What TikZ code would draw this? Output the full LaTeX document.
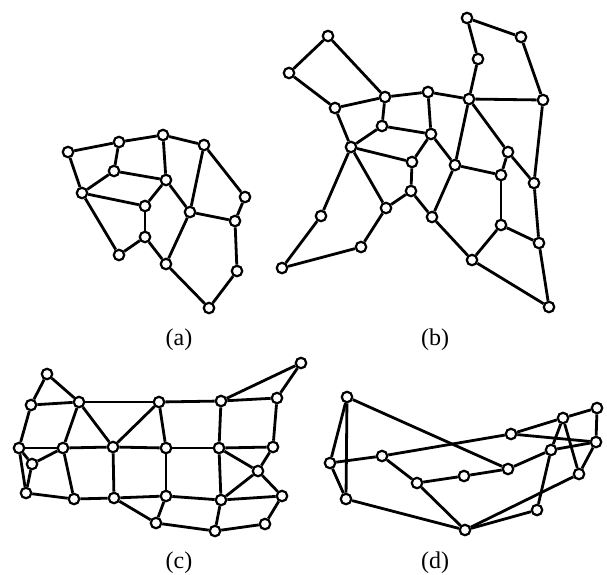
\documentclass[tikz,border=0pt]{standalone}
\usepackage{fontspec}
\setmainfont{Liberation Serif}
\begin{document}
\begin{tikzpicture}[x=1pt,y=-1pt,
  vtx/.style={circle,draw,fill=white,inner sep=0pt,minimum size=10.5pt,line width=2.2pt},
  edge/.style={line width=2.8pt},
  lab/.style={font=\fontsize{24}{28}\selectfont,inner sep=0pt}]
\useasboundingbox (0,0) rectangle (607,574);
% (a)
\foreach \n/\x/\y in {a1/68/152,a2/119/142,a3/163/135,a4/204/145,a5/114/171,a6/166/180,a7/82/193,a8/145/206,a9/190/212,a10/245/197,a11/235/221,a12/145/237,a13/119/255,a14/166/264,a15/237/271,a16/209/308}
  \node[vtx] (\n) at (\x,\y) {};
\foreach \u/\v in {a1/a2,a2/a3,a3/a4,a1/a7,a2/a5,a5/a7,a5/a6,a3/a6,a7/a8,a7/a13,a6/a8,a6/a9,a4/a9,a4/a10,a10/a11,a9/a11,a8/a12,a12/a13,a12/a14,a9/a14,a11/a15,a14/a16,a15/a16}
  \draw[edge] (\u) -- (\v);
% (b)
\foreach \n/\x/\y in {b1/328/36,b2/289/73,b3/385/97,b4/428/92,b5/335/108,b6/382/126,b7/431/134,b8/351/147,b9/412/162,b10/411/191,b11/386/208,b12/432/217,b13/321/216,b14/361/247,b15/282/268,b16/467/18,b17/521/37,b18/478/59,b19/469/99,b20/543/100,b21/508/152,b22/455/165,b23/501/175,b24/534/183,b25/501/225,b26/539/243,b27/472/260,b28/549/307}
  \node[vtx] (\n) at (\x,\y) {};
\foreach \u/\v in {b1/b2,b1/b3,b2/b5,b5/b3,b3/b4,b3/b6,b5/b8,b6/b8,b6/b7,b4/b7,b8/b9,b7/b9,b9/b10,b8/b11,b8/b13,b10/b11,b10/b12,b11/b14,b13/b15,b14/b15,b4/b19,b16/b17,b16/b18,b18/b19,b19/b20,b17/b20,b19/b22,b19/b21,b7/b22,b22/b23,b21/b23,b21/b24,b20/b24,b23/b25,b24/b26,b25/b26,b25/b27,b22/b12,b12/b27,b27/b28,b26/b28}
  \draw[edge] (\u) -- (\v);
% (c)
\foreach \n/\x/\y in {c1/47/374,c2/31/405,c3/79/402,c4/159/402,c5/19/448,c6/63/448,c7/113/447,c8/32/464,c9/26/493,c10/74/499,c11/114/498,c12/156/523,c13/301/363,c14/221/401,c15/277/398,c16/166/448,c17/219/448,c18/273/447,c19/258/471,c20/166/496,c21/221/500,c22/282/496,c24/215/531,c25/265/524}
  \node[vtx] (\n) at (\x,\y) {};
\foreach \u/\v in {c1/c2,c1/c3,c2/c3,c3/c4,c2/c5,c3/c6,c3/c7,c4/c7,c5/c6,c6/c7,c5/c8,c5/c9,c6/c8,c8/c9,c6/c10,c9/c10,c10/c11,c7/c11,c7/c16,c11/c12,c11/c20,c4/c16,c4/c14,c14/c13,c14/c15,c13/c15,c14/c17,c15/c18,c16/c17,c17/c18,c17/c19,c18/c19,c16/c20,c17/c21,c19/c21,c19/c22,c20/c21,c21/c22,c20/c12,c12/c24,c21/c24,c24/c25,c25/c22}
  \draw[edge] (\u) -- (\v);
% (d)
\foreach \n/\x/\y in {d1/347/397,d2/330/463,d3/382/456,d4/417/483,d5/346/499,d6/464/476,d7/511/434,d8/508/469,d9/551/450,d10/563/418,d11/597/408,d12/596/442,d13/579/474,d14/537/510,d15/465/530}
  \node[vtx] (\n) at (\x,\y) {};
\foreach \u/\v in {d1/d2,d1/d5,d2/d5,d1/d8,d2/d3,d3/d7,d3/d4,d4/d6,d4/d15,d5/d15,d6/d8,d8/d9,d7/d10,d7/d12,d10/d11,d11/d12,d10/d9,d10/d13,d9/d12,d12/d13,d9/d14,d13/d15,d14/d15}
  \draw[edge] (\u) -- (\v);
% labels
\node[lab] (la) at (179,340) {(a)};
\node[lab] (lb) at (435,340) {(b)};
\node[lab] (lc) at (179,563) {(c)};
\node[lab] (ld) at (435,563) {(d)};
\end{tikzpicture}
\end{document}
